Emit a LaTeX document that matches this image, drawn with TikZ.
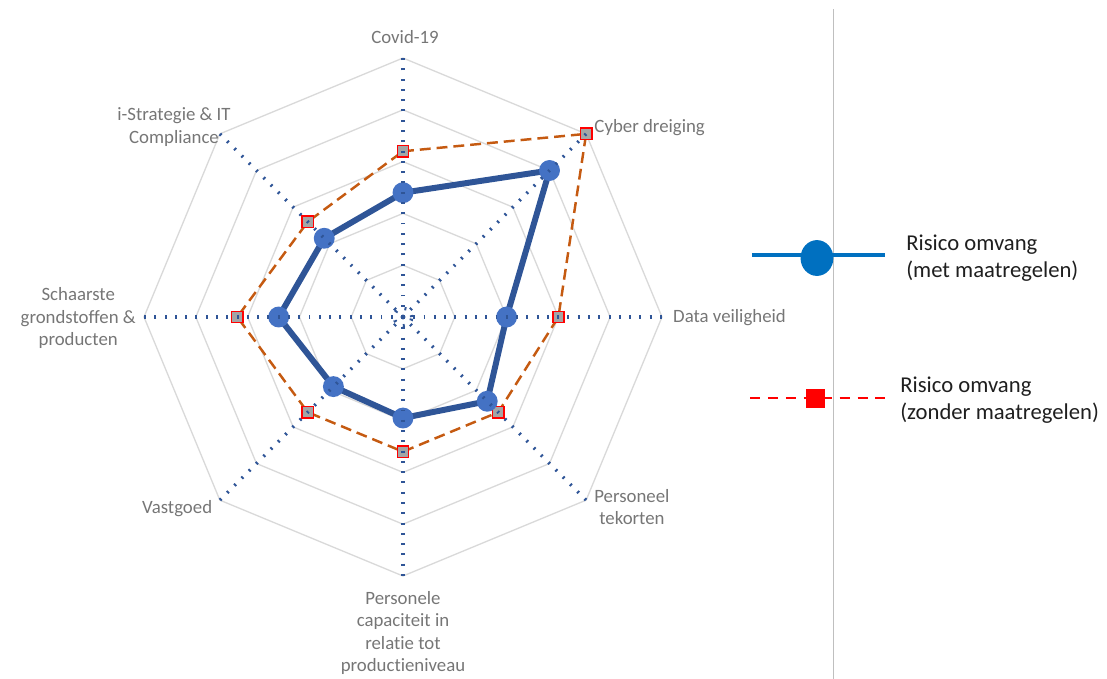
\documentclass[tikz,border=0pt]{standalone}
\usepackage{fontspec}
\setmainfont{Carlito}[Ligatures=NoCommon]
\usetikzlibrary{shapes.geometric}
\definecolor{gridgray}{HTML}{D9D9D9}
\definecolor{axisblue}{HTML}{2F5597}
\definecolor{lineblue}{HTML}{2F5597}
\definecolor{dotblue}{HTML}{4472C4}
\definecolor{dashorange}{HTML}{C55A11}
\definecolor{labelgray}{HTML}{767676}
\definecolor{legblue}{HTML}{0070C0}
\definecolor{markgray}{HTML}{A5A5A5}
\definecolor{sepgray}{HTML}{BFBFBF}

\begin{document}
\begin{tikzpicture}[x=1.036cm,y=1.036cm,
	gridline/.style={gridgray,line width=0.75pt},
	spoke/.style={axisblue,line width=1.9pt,dash pattern=on 1.1pt off 4.75pt},
	metline/.style={lineblue,line width=3.4pt,line join=round},
	zonderline/.style={dashorange,line width=1.4pt,dash pattern=on 6.2pt off 3.4pt},
	bmark/.style={circle,fill=dotblue,inner sep=0pt,minimum size=11.9pt},
	omark/.style={rectangle,draw=red,fill=markgray,line width=0.9pt,inner sep=0pt,minimum size=6.4pt},
	axlabel/.style={labelgray,inner sep=0pt,align=center,font=\fontsize{10.7}{12.75}\selectfont},
	legtext/.style={black!88,inner sep=0pt,align=left,anchor=west,font=\fontsize{12.9}{15.3}\selectfont}]
	\useasboundingbox (-7.780,-6.988) rectangle (13.591,6.120);
	\coordinate (c) at (0,0);
	% grid
	\foreach \r in {1,...,5}
		\draw[gridline] (0:\r) \foreach \a in {45,90,...,315} { -- (\a:\r) } -- cycle;
	% data
	\foreach \i/\a/\b/\o in {1/90/2.4/3.2, 2/45/4.0/5, 3/0/2.0/3, 4/-45/2.3/2.6, 5/-90/1.95/2.6, 6/-135/1.9/2.6, 7/180/2.4/3.2, 8/135/2.15/2.6} {
		\coordinate (e\i) at (\a:5);
		\coordinate (b\i) at (\a:\b);
		\coordinate (o\i) at (\a:\o);}
	\draw[zonderline] (o1) -- (o2) -- (o3) -- (o4) -- (o5) -- (o6) -- (o7) -- (o8) -- cycle;
	\draw[metline] (b1) -- (b2) -- (b3) -- (b4) -- (b5) -- (b6) -- (b7) -- (b8) -- cycle;
	\foreach \i in {1,...,8} {
		\node[omark] (om\i) at (o\i) {};
		\node[bmark] (bm\i) at (b\i) {};}
	% axes
	\foreach \i in {1,...,8}
		\draw[spoke] (c) -- (e\i);
	\draw[spoke] (c) circle (0.17);
	% labels
	\node[axlabel] (lcovid) at (0.04,5.41) {Covid-19};
	\node[axlabel,anchor=west] (lcyber) at (3.69,3.65) {Cyber dreiging};
	\node[axlabel,anchor=west] (ldata) at (5.21,-0.02) {Data veiligheid};
	\node[axlabel] (ltekort) at (4.42,-3.67) {Personeel\\tekorten};
	\node[axlabel] (lcap) at (0,-6.10) {Personele\\capaciteit in\\relatie tot\\productieniveau};
	\node[axlabel] (lvast) at (-4.36,-3.69) {Vastgoed};
	\node[axlabel] (lschaars) at (-6.27,-0.02) {Schaarste\\grondstoffen \&\\producten};
	\node[axlabel] (lstrat) at (-4.42,3.67) {i-Strategie \& IT\\Compliance};
	% legend
	\coordinate (sept) at (8.320,5.946);
	\coordinate (sepb) at (8.320,-6.988);
	\draw[sepgray,line width=0.6pt] (sept) -- (sepb);
	\coordinate (l1a) at (6.737,1.197);
	\coordinate (l1b) at (9.305,1.197);
	\draw[legblue,line width=2.7pt] (l1a) -- (l1b);
	\node[ellipse,fill=legblue,inner sep=0pt,minimum width=18.7pt,minimum height=20.4pt] (l1m) at (7.992,1.139) {};
	\node[legtext] (l1t) at (9.710,1.139) {Risico omvang\\(met maatregelen)};
	\coordinate (l2a) at (6.699,-1.564);
	\coordinate (l2b) at (9.344,-1.564);
	\draw[red,line width=1.4pt,dash pattern=on 5.7pt off 4.5pt] (l2a) -- (l2b);
	\node[rectangle,fill=red,inner sep=0pt,minimum size=10.8pt] (l2m) at (7.954,-1.564) {};
	\node[legtext] (l2t) at (9.595,-1.602) {Risico omvang\\(zonder maatregelen)};
\end{tikzpicture}
\end{document}
